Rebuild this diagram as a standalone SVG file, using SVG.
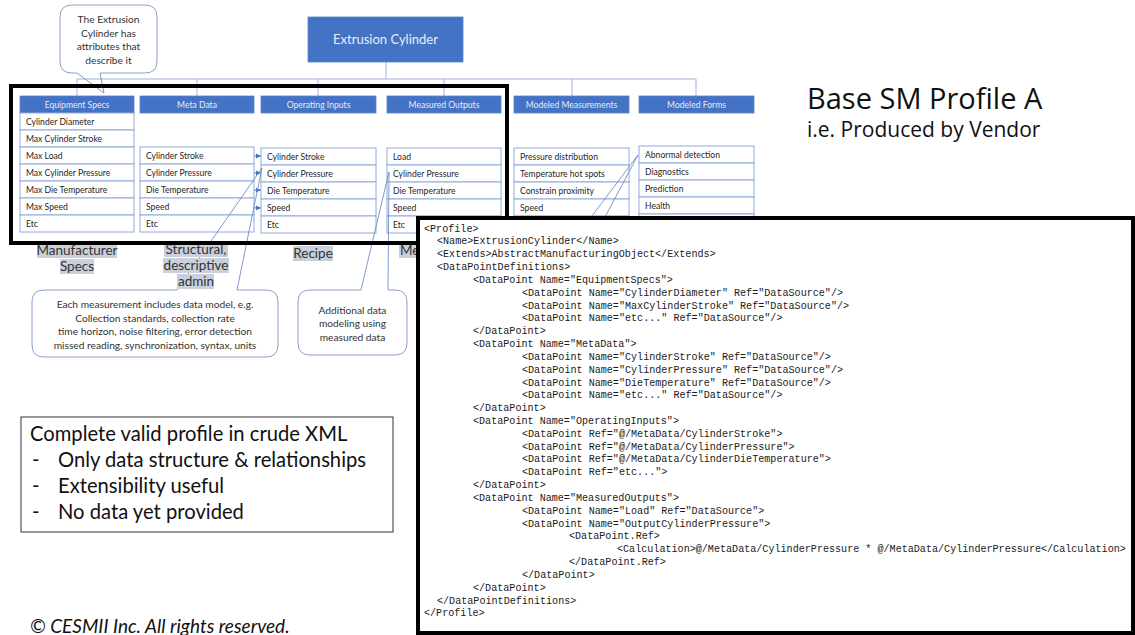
<svg xmlns="http://www.w3.org/2000/svg" width="1135" height="635" viewBox="0 0 1135 635">
  <style>
    .bg { fill: #ffffff; }
    .hdr { fill: #4472c4; stroke: #5b82c9; stroke-width: 0.8; }
    .hdrt { font-family: Lato, "Liberation Sans", sans-serif; font-size: 8.6px; fill: #e4ebf7; text-anchor: middle; }
    .row { fill: #ffffff; stroke: #8eaadb; stroke-width: 1; }
    .rowt { font-family: Lato, "Liberation Sans", sans-serif; font-size: 8.6px; fill: #262626; }
    .conn { fill: none; stroke: #9db3df; stroke-width: 1; }
    .arrow { fill: none; stroke: #4472c4; stroke-width: 1; marker-end: url(#ah); }
    .call { fill: #ffffff; stroke: #8da2c8; stroke-width: 1; }
    .tail { fill: none; stroke: #6f8fc7; stroke-width: 0.9; }
    .callt { font-family: Lato, "Liberation Sans", sans-serif; font-size: 10.2px; fill: #333333; text-anchor: middle; }
    .lbl { font-family: Lato, "Liberation Sans", sans-serif; font-size: 13.5px; fill: #333333; text-anchor: middle; }
    .lbls { text-anchor: start; }
    .hl { fill: #c9cfdb; }
    .frame { fill: none; stroke: #000000; stroke-width: 4; }
    .xml { font-family: "Liberation Mono", "DejaVu Sans Mono", monospace; font-size: 10.1px; fill: #1a1a1a; white-space: pre; }
    .note { font-family: Lato, "Liberation Sans", sans-serif; font-size: 20.2px; fill: #111111; }
    .ttl { font-family: "Open Sans", Lato, sans-serif; fill: #111111; }
  </style>
  <defs>
    <marker id="ah" markerWidth="6" markerHeight="6" refX="5" refY="3" orient="auto" markerUnits="userSpaceOnUse">
      <path d="M0,0.5 L5,3 L0,5.5 Z" fill="#4472c4"/>
    </marker>
  </defs>

  <rect class="bg" x="0" y="0" width="1135" height="635"/>

  <!-- hierarchy connectors and list links -->
  <g id="connectors">
    <path class="conn" d="M386,62 V79 M77,79 H696 M77,79 V96 M197,79 V96 M318,79 V96 M444,79 V96 M572,79 V96 M696,79 V96"/>
    <line class="arrow" x1="215" y1="156" x2="261" y2="156"/>
    <line class="arrow" x1="215" y1="173" x2="261" y2="173"/>
    <line class="arrow" x1="217" y1="191" x2="261" y2="190"/>
    <line class="arrow" x1="216" y1="207" x2="261" y2="208"/>
  </g>

  <!-- root object -->
  <g id="extrusion-cylinder">
    <rect x="308" y="17" width="155" height="45" fill="#4472c4" stroke="#5b82c9" stroke-width="0.8"/>
    <text x="385.5" y="44" font-family="Lato, 'Liberation Sans', sans-serif" font-size="13px" fill="#e8eef8" text-anchor="middle">Extrusion Cylinder</text>
  </g>

  <g id="equipment-specs">
    <rect class="hdr" x="20" y="96" width="114" height="17"/>
    <text class="hdrt" x="77" y="108">Equipment Specs</text>
    <rect class="row" x="20" y="113" width="114" height="17"/><text class="rowt" x="26" y="125">Cylinder Diameter</text>
    <rect class="row" x="20" y="130" width="114" height="17"/><text class="rowt" x="26" y="142">Max Cylinder Stroke</text>
    <rect class="row" x="20" y="147" width="114" height="17"/><text class="rowt" x="26" y="159">Max Load</text>
    <rect class="row" x="20" y="164" width="114" height="17"/><text class="rowt" x="26" y="176">Max Cylinder Pressure</text>
    <rect class="row" x="20" y="181" width="114" height="17"/><text class="rowt" x="26" y="193">Max Die Temperature</text>
    <rect class="row" x="20" y="198" width="114" height="17"/><text class="rowt" x="26" y="210">Max Speed</text>
    <rect class="row" x="20" y="215" width="114" height="17"/><text class="rowt" x="26" y="227">Etc</text>
  </g>

  <g id="meta-data">
    <rect class="hdr" x="140" y="96" width="114" height="17"/>
    <text class="hdrt" x="197" y="108">Meta Data</text>
    <rect class="row" x="140" y="147" width="114" height="17"/><text class="rowt" x="146" y="159">Cylinder Stroke</text>
    <rect class="row" x="140" y="164" width="114" height="17"/><text class="rowt" x="146" y="176">Cylinder Pressure</text>
    <rect class="row" x="140" y="181" width="114" height="17"/><text class="rowt" x="146" y="193">Die Temperature</text>
    <rect class="row" x="140" y="198" width="114" height="17"/><text class="rowt" x="146" y="210">Speed</text>
    <rect class="row" x="140" y="215" width="114" height="17"/><text class="rowt" x="146" y="227">Etc</text>
  </g>

  <g id="operating-inputs">
    <rect class="hdr" x="261" y="96" width="115" height="17"/>
    <text class="hdrt" x="318.5" y="108">Operating Inputs</text>
    <rect class="row" x="261" y="148" width="115" height="17"/><text class="rowt" x="267" y="160">Cylinder Stroke</text>
    <rect class="row" x="261" y="165" width="115" height="17"/><text class="rowt" x="267" y="177">Cylinder Pressure</text>
    <rect class="row" x="261" y="182" width="115" height="17"/><text class="rowt" x="267" y="194">Die Temperature</text>
    <rect class="row" x="261" y="199" width="115" height="17"/><text class="rowt" x="267" y="211">Speed</text>
    <rect class="row" x="261" y="216" width="115" height="17"/><text class="rowt" x="267" y="228">Etc</text>
  </g>

  <g id="measured-outputs">
    <rect class="hdr" x="387" y="96" width="114" height="17"/>
    <text class="hdrt" x="444" y="108">Measured Outputs</text>
    <rect class="row" x="387" y="148" width="114" height="17"/><text class="rowt" x="393" y="160">Load</text>
    <rect class="row" x="387" y="165" width="114" height="17"/><text class="rowt" x="393" y="177">Cylinder Pressure</text>
    <rect class="row" x="387" y="182" width="114" height="17"/><text class="rowt" x="393" y="194">Die Temperature</text>
    <rect class="row" x="387" y="199" width="114" height="17"/><text class="rowt" x="393" y="211">Speed</text>
    <rect class="row" x="387" y="216" width="114" height="17"/><text class="rowt" x="393" y="228">Etc</text>
  </g>

  <g id="modeled-measurements">
    <rect class="hdr" x="514" y="96" width="115" height="17"/>
    <text class="hdrt" x="571.5" y="108">Modeled Measurements</text>
    <rect class="row" x="514" y="148" width="115" height="17"/><text class="rowt" x="520" y="160">Pressure distribution</text>
    <rect class="row" x="514" y="165" width="115" height="17"/><text class="rowt" x="520" y="177">Temperature hot spots</text>
    <rect class="row" x="514" y="182" width="115" height="17"/><text class="rowt" x="520" y="194">Constrain proximity</text>
    <rect class="row" x="514" y="199" width="115" height="17"/><text class="rowt" x="520" y="211">Speed</text>
    <rect class="row" x="514" y="216" width="115" height="17"/>
  </g>

  <g id="modeled-forms">
    <rect class="hdr" x="639" y="96" width="115" height="17"/>
    <text class="hdrt" x="696.5" y="108">Modeled Forms</text>
    <rect class="row" x="639" y="146" width="115" height="17"/><text class="rowt" x="645" y="158">Abnormal detection</text>
    <rect class="row" x="639" y="163" width="115" height="17"/><text class="rowt" x="645" y="175">Diagnostics</text>
    <rect class="row" x="639" y="180" width="115" height="17"/><text class="rowt" x="645" y="192">Prediction</text>
    <rect class="row" x="639" y="197" width="115" height="17"/><text class="rowt" x="645" y="209">Health</text>
    <rect class="row" x="639" y="214" width="115" height="17"/>
  </g>

  <!-- callouts -->
  <g id="callout-attributes">
    <path class="call" d="M100,73 H145 Q157,73 157,61 V17 Q157,5 145,5 H72 Q60,5 60,17 V61 Q60,73 72,73 H77"/>
    <polyline class="tail" points="77,73 104,93 100,73"/>
    <text class="callt" x="108.5" y="23">The Extrusion</text>
    <text class="callt" x="108.5" y="37">Cylinder has</text>
    <text class="callt" x="108.5" y="50">attributes that</text>
    <text class="callt" x="108.5" y="64">describe it</text>
  </g>

  <g id="callout-measurement">
    <path class="call" d="M237,290 H266 Q278,290 278,302 V345 Q278,357 266,357 H44 Q32,357 32,345 V302 Q32,290 44,290 H177"/>
    <polyline class="tail" points="177,290 262,168 237,290"/>
    <text class="callt" x="155" y="308">Each measurement  includes data model, e.g.</text>
    <text class="callt" x="155" y="322">Collection standards, collection rate</text>
    <text class="callt" x="155" y="335">time horizon, noise filtering, error detection</text>
    <text class="callt" x="155" y="349">missed reading, synchronization, syntax, units</text>
  </g>

  <g id="callout-modeling">
    <path class="call" d="M388,290 H395 Q407,290 407,302 V343 Q407,355 395,355 H310 Q298,355 298,343 V302 Q298,290 310,290 H361"/>
    <polyline class="tail" points="361,290 389,172 388,290"/>
    <text class="callt" x="352.5" y="314">Additional data</text>
    <text class="callt" x="352.5" y="327">modeling using</text>
    <text class="callt" x="352.5" y="341">measured data</text>
  </g>

  <g id="callout-forms">
    <polyline class="tail" points="570,245 638,155 590,245"/>
  </g>

  <!-- category labels -->
  <g id="label-manufacturer">
    <rect class="hl" x="37" y="243" width="80" height="15"/>
    <rect class="hl" x="60" y="259" width="34" height="15"/>
    <text class="lbl" x="77" y="255">Manufacturer</text>
    <text class="lbl" x="77" y="271">Specs</text>
  </g>
  <g id="label-structural">
    <rect class="hl" x="164" y="242" width="64" height="15"/>
    <rect class="hl" x="163" y="258" width="66" height="15"/>
    <rect class="hl" x="177" y="274" width="37" height="15"/>
    <text class="lbl" x="196" y="254">Structural,</text>
    <text class="lbl" x="196" y="270">descriptive</text>
    <text class="lbl" x="196" y="286">admin</text>
  </g>
  <g id="label-recipe">
    <rect class="hl" x="293" y="246" width="40" height="15"/>
    <text class="lbl" x="313" y="258">Recipe</text>
  </g>
  <g id="label-measured">
    <rect class="hl" x="399" y="243" width="19" height="15"/>
    <text class="lbl lbls" x="400" y="255">Me</text>
  </g>

  <!-- grouping frame round the vendor-supplied categories -->
  <rect id="vendor-frame" class="frame" x="11" y="86" width="496" height="157"/>

  <!-- title -->
  <g id="title">
    <text class="ttl" x="807" y="109" font-size="29px">Base SM Profile A</text>
    <text class="ttl" x="807" y="137" font-size="21px">i.e. Produced by Vendor</text>
  </g>

  <!-- summary note -->
  <g id="summary-note">
    <rect x="21" y="417" width="372" height="115" fill="#ffffff" stroke="#333333" stroke-width="1"/>
    <text class="note" x="30" y="441">Complete  valid profile in crude XML</text>
    <text class="note" x="32" y="467">-</text><text class="note" x="58" y="467">Only data structure &amp; relationships</text>
    <text class="note" x="32" y="493">-</text><text class="note" x="58" y="493">Extensibility useful</text>
    <text class="note" x="32" y="519">-</text><text class="note" x="58" y="519">No data yet provided</text>
  </g>

  <text id="copyright" x="30" y="633" font-family="Lato, 'Liberation Sans', sans-serif" font-size="19px" font-style="italic" fill="#111111">© CESMII Inc. All rights reserved.</text>

  <!-- XML listing -->
  <g id="xml-profile">
    <rect x="418" y="218" width="715" height="415" fill="#ffffff" stroke="#000000" stroke-width="4"/>
    <text class="xml" x="424" y="231.5">&lt;Profile&gt;</text>
    <text class="xml" x="437" y="244.3">&lt;Name&gt;ExtrusionCylinder&lt;/Name&gt;</text>
    <text class="xml" x="437" y="257.2">&lt;Extends&gt;AbstractManufacturingObject&lt;/Extends&gt;</text>
    <text class="xml" x="437" y="270.0">&lt;DataPointDefinitions&gt;</text>
    <text class="xml" x="473" y="282.8">&lt;DataPoint Name="EquipmentSpecs"&gt;</text>
    <text class="xml" x="522" y="295.7">&lt;DataPoint Name="CylinderDiameter" Ref="DataSource"/&gt;</text>
    <text class="xml" x="522" y="308.5">&lt;DataPoint Name="MaxCylinderStroke" Ref="DataSource"/&gt;</text>
    <text class="xml" x="522" y="321.3">&lt;DataPoint Name="etc..." Ref="DataSource"/&gt;</text>
    <text class="xml" x="473" y="334.1">&lt;/DataPoint&gt;</text>
    <text class="xml" x="473" y="347.0">&lt;DataPoint Name="MetaData"&gt;</text>
    <text class="xml" x="522" y="359.8">&lt;DataPoint Name="CylinderStroke" Ref="DataSource"/&gt;</text>
    <text class="xml" x="522" y="372.6">&lt;DataPoint Name="CylinderPressure" Ref="DataSource"/&gt;</text>
    <text class="xml" x="522" y="385.5">&lt;DataPoint Name="DieTemperature" Ref="DataSource"/&gt;</text>
    <text class="xml" x="522" y="398.3">&lt;DataPoint Name="etc..." Ref="DataSource"/&gt;</text>
    <text class="xml" x="473" y="411.1">&lt;/DataPoint&gt;</text>
    <text class="xml" x="473" y="424.0">&lt;DataPoint Name="OperatingInputs"&gt;</text>
    <text class="xml" x="522" y="436.8">&lt;DataPoint Ref="@/MetaData/CylinderStroke"&gt;</text>
    <text class="xml" x="522" y="449.6">&lt;DataPoint Ref="@/MetaData/CylinderPressure"&gt;</text>
    <text class="xml" x="522" y="462.4">&lt;DataPoint Ref="@/MetaData/CylinderDieTemperature"&gt;</text>
    <text class="xml" x="522" y="475.3">&lt;DataPoint Ref="etc..."&gt;</text>
    <text class="xml" x="473" y="488.1">&lt;/DataPoint&gt;</text>
    <text class="xml" x="473" y="500.9">&lt;DataPoint Name="MeasuredOutputs"&gt;</text>
    <text class="xml" x="522" y="513.8">&lt;DataPoint Name="Load" Ref="DataSource"&gt;</text>
    <text class="xml" x="522" y="526.6">&lt;DataPoint Name="OutputCylinderPressure"&gt;</text>
    <text class="xml" x="569" y="539.4">&lt;DataPoint.Ref&gt;</text>
    <text class="xml" x="617" y="552.3">&lt;Calculation&gt;@/MetaData/CylinderPressure * @/MetaData/CylinderPressure&lt;/Calculation&gt;</text>
    <text class="xml" x="569" y="565.1">&lt;/DataPoint.Ref&gt;</text>
    <text class="xml" x="522" y="577.9">&lt;/DataPoint&gt;</text>
    <text class="xml" x="473" y="590.7">&lt;/DataPoint&gt;</text>
    <text class="xml" x="437" y="603.6">&lt;/DataPointDefinitions&gt;</text>
    <text class="xml" x="424" y="616.4">&lt;/Profile&gt;</text>
  </g>
</svg>
